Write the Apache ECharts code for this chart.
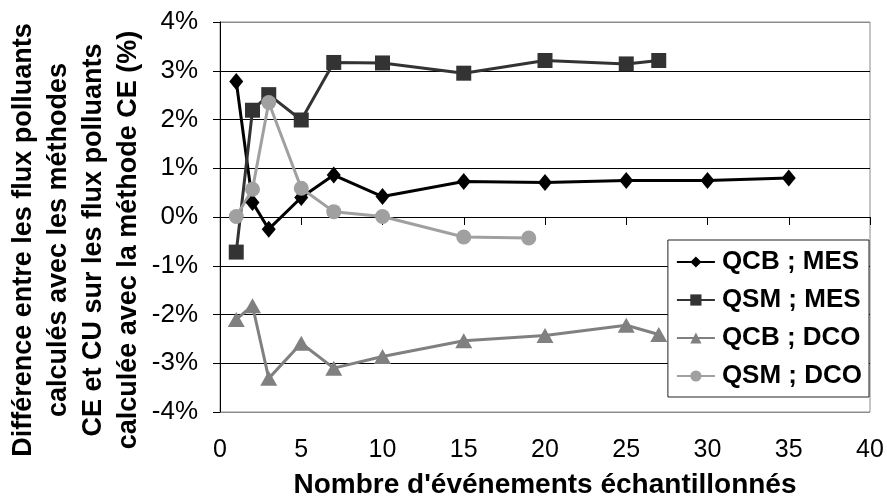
<!DOCTYPE html>
<html><head><meta charset="utf-8">
<script src="https://cdn.jsdelivr.net/npm/echarts@6/dist/echarts.min.js"></script>
<style>html,body{margin:0;padding:0;background:#fff}#c{width:887px;height:504px}</style>
</head><body><div id="c"></div>
<script>
// Data
const qcbMesX = [1, 2, 3, 5, 7, 10, 15, 20, 25, 30, 35];
const qcbMesY = [2.78, 0.30, -0.25, 0.40, 0.86, 0.42, 0.73, 0.71, 0.75, 0.75, 0.80];
const qsmMesX = [1, 2, 3, 5, 7, 10, 15, 20, 25, 27];
const qsmMesY = [-0.72, 2.19, 2.51, 1.99, 3.17, 3.16, 2.95, 3.21, 3.14, 3.21];
const qcbDcoX = [1, 2, 3, 5, 7, 10, 15, 20, 25, 27];
const qcbDcoY = [-2.10, -1.82, -3.31, -2.59, -3.10, -2.86, -2.54, -2.43, -2.22, -2.41];
const qsmDcoX = [1, 2, 3, 5, 7, 10, 15, 19];
const qsmDcoY = [0.01, 0.57, 2.35, 0.59, 0.11, 0.01, -0.41, -0.43];
const seriesNames = ['QCB ; MES', 'QSM ; MES', 'QCB ; DCO', 'QSM ; DCO'];
const xTitle = "Nombre d'événements échantillonnés";
const yTitleLines = ['Différence entre les flux polluants', 'calculés avec les méthodes', 'CE et CU sur les flux polluants', 'calculée avec la méthode CE (%)'];

const zip = (xs, ys) => xs.map((x, i) => [x, ys[i]]);
const FONT = 'Liberation Sans, Arial, sans-serif';
const NARROW = 'Liberation Sans Narrow, Liberation Sans, Arial, sans-serif';

function mk(name, data, color, symbol, size) {
  return {
    name, type: 'line', data, xAxisIndex: 0, yAxisIndex: 0,
    symbol, symbolSize: size, showAllSymbol: true,
    lineStyle: { color, width: 3 },
    itemStyle: { color, borderWidth: 0 },
    emphasis: { disabled: true }, animation: false
  };
}

const chart = echarts.init(document.getElementById('c'), null, { renderer: 'canvas' });
chart.setOption({
  animation: false,
  grid: { left: 220, right: 17, top: 22, bottom: 91, show: true, borderColor: '#8c8c8c', borderWidth: 1 },
  xAxis: [
    { type: 'value', min: 0, max: 40, interval: 5, position: 'bottom',
      axisLine: { show: true, onZero: true, lineStyle: { color: '#000', width: 1 } },
      axisTick: { show: true, inside: false, length: 8, lineStyle: { color: '#000' } },
      axisLabel: { show: false }, splitLine: { show: false } },
    { type: 'value', min: 0, max: 40, interval: 5, position: 'bottom',
      axisLine: { show: false, onZero: false }, axisTick: { show: false },
      axisLabel: { show: true, margin: 26, fontSize: 25, color: '#000', fontFamily: NARROW },
      splitLine: { show: false },
      name: xTitle, nameLocation: 'middle', nameGap: 59,
      nameTextStyle: { fontSize: 28, fontWeight: 'bold', color: '#000', fontFamily: NARROW } }
  ],
  yAxis: {
    type: 'value', min: -4, max: 4, interval: 1,
    axisLine: { show: true, lineStyle: { color: '#000', width: 1 } },
    axisTick: { show: true, inside: false, length: 7, lineStyle: { color: '#000' } },
    axisLabel: { margin: 22, fontSize: 26, color: '#000', fontFamily: FONT, formatter: v => v + '%' },
    splitLine: { show: true, lineStyle: { color: ['#8c8c8c', '#000', '#000', '#000', '#000', '#000', '#000', '#000', '#8c8c8c'], width: 1 } }
  },
  legend: {
    orient: 'vertical', right: 18, top: 240,
    backgroundColor: '#fff', borderColor: '#222', borderWidth: 1,
    padding: [9, 7, 8, 8], itemGap: 12, itemWidth: 38, itemHeight: 14,
    textStyle: { fontSize: 26, fontWeight: 'bold', color: '#000', fontFamily: FONT, padding: [0, 0, 0, 2] },
    data: seriesNames, z: 10
  },
  graphic: [{
    type: 'text', x: 76, y: 240, rotation: Math.PI / 2, z: 10,
    style: { text: yTitleLines.join('\n'), fill: '#000', font: 'bold 27px ' + FONT,
      textAlign: 'center', textVerticalAlign: 'middle', lineHeight: 35 }
  }],
  series: [
    mk(seriesNames[0], zip(qcbMesX, qcbMesY), '#000000', 'diamond', [14, 17]),
    mk(seriesNames[1], zip(qsmMesX, qsmMesY), '#333333', 'rect', 15),
    mk(seriesNames[2], zip(qcbDcoX, qcbDcoY), '#808080', 'triangle', [17, 15]),
    mk(seriesNames[3], zip(qsmDcoX, qsmDcoY), '#a0a0a0', 'circle', 15)
  ]
});
</script></body></html>
